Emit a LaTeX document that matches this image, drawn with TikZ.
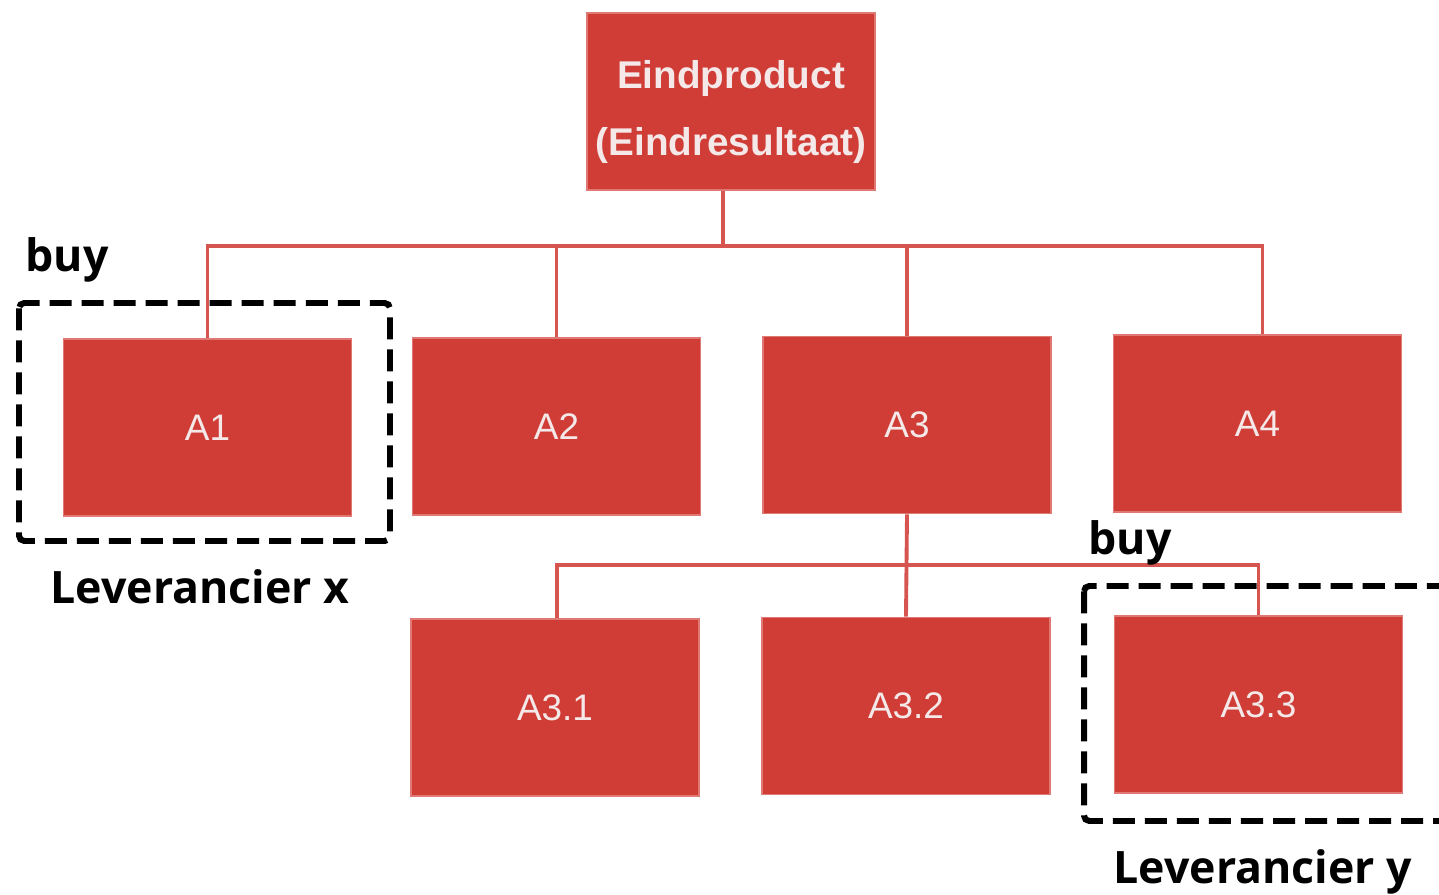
\documentclass[tikz,border=0pt]{standalone}
\usepackage{fontspec}
\setmainfont{Liberation Sans}
\newfontfamily\lblfont{Open Sans}
\usetikzlibrary{positioning}

\definecolor{boxred}{RGB}{207,61,54}
\definecolor{boxedge}{RGB}{224,120,115}
\definecolor{linkred}{RGB}{215,85,80}
\definecolor{boxtext}{RGB}{244,232,232}

\begin{document}
\begin{tikzpicture}[x=0.01cm,y=-0.01cm,
  part/.style={draw=boxedge,line width=0.5pt,fill=boxred,text=boxtext,
    minimum width=2.88cm,minimum height=1.77cm,inner sep=0pt,
    font=\fontsize{10.5}{12}\selectfont},
  link/.style={draw=linkred,line width=1.1pt},
  buybox/.style={draw=black,line width=1.7pt,dash pattern=on 0.22cm off 0.1cm,rounded corners=1.5pt},
  lbl/.style={anchor=base west,inner sep=0pt,font=\lblfont\bfseries\fontsize{12.7}{14}\selectfont}]
  \useasboundingbox[fill=white] (0,0) rectangle (1439,895);
  % top
  \node[part,text height=1.15cm,font=\bfseries\fontsize{11}{19}\selectfont,align=center] (top) at (731,101.5) {Eindproduct\\(Eindresultaat)};
  % level 1
  \node[part] (a1) at (207.5,427.5) {A1};
  \node[part] (a2) at (556.5,426.5) {A2};
  \node[part] (a3) at (907,425) {A3};
  \node[part] (a4) at (1257.5,423.5) {A4};
  % level 2
  \node[part] (a31) at (555,707.5) {A3.1};
  \node[part] (a32) at (906,706) {A3.2};
  \node[part] (a33) at (1258.5,704.5) {A3.3};
  % links
  \coordinate (bus1) at (0,246);
  \coordinate (bus2) at (0,565);
  \draw[link] ([xshift=-0.08cm]top.south) -- ([xshift=-0.08cm]top.south |- bus1);
  \draw[link] (a1.north) |- ([xshift=0.05cm]bus1 -| a4.north) -- ([xshift=0.05cm]a4.north);
  \foreach \n in {a2,a3} \draw[link] (\n.north) -- (\n.north |- bus1);
  \draw[link] (a3.south) -- (a32.north);
  \draw[link] ([xshift=0.02cm]a31.north) |- (bus2 -| a33.north) -- (a33.north);
  % make or buy
  \draw[buybox] (19,303) rectangle (390,541);
  \draw[buybox] (1084,586) rectangle (1470,821);
  \node[lbl] (buy1) at (25,272) {buy};
  \node[lbl] (levx) at (50,604) {Leverancier x};
  \node[lbl] (buy2) at (1088,555) {buy};
  \node[lbl] (levy) at (1113,884) {Leverancier y};
\end{tikzpicture}
\end{document}
